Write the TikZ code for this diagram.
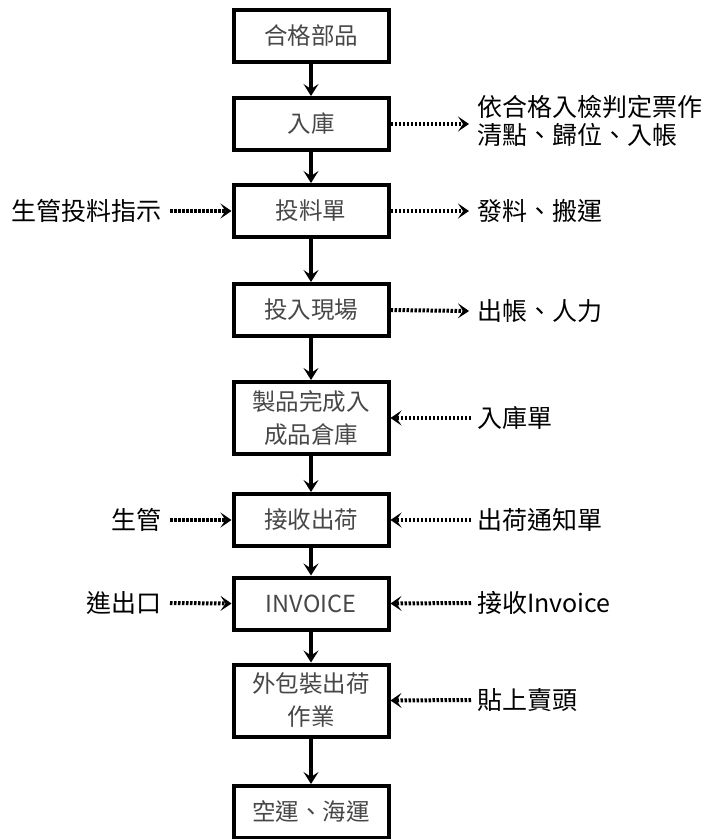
\documentclass[tikz,border=0pt]{standalone}
\usepackage{fontspec}
\setmainfont{Noto Sans CJK TC}
\usetikzlibrary{arrows.meta}
\begin{document}
\begin{tikzpicture}[x=1pt,y=-1pt,
  box/.style={draw=black, line width=4pt, minimum width=155pt, minimum height=52pt, inner sep=0pt,
     text=black!72, align=center, font=\fontsize{23.5}{33}\selectfont},
  tall/.style={minimum height=72pt},
  lbl/.style={text=black, align=left, inner sep=0pt, font=\fontsize{25}{28}\selectfont},
  flow/.style={line width=4pt, -{Stealth[length=12pt,width=15pt,inset=5pt]}},
  dot/.style={line width=4pt, dash pattern=on 2.5pt off 1.5pt, -{Stealth[length=11pt,width=15pt,inset=5pt]}}]
\useasboundingbox (0,0) rectangle (708,839);
\node[box] (b1) at (311,36) {合格部品};
\node[box] (b2) at (311,124) {入庫};
\node[box] (b3) at (311,211) {投料單};
\node[box] (b4) at (311,310) {投入現場};
\node[box,tall] (b5) at (311,418) {製品完成入\\成品倉庫};
\node[box] (b6) at (311,520) {接收出荷};
\node[box] (b7) at (311,603.5) {INVOICE};
\node[box,tall] (b8) at (311,700.5) {外包裝出荷\\作業};
\node[box] (b9) at (311,812) {空運、海運};
\foreach \a/\b in {b1/b2,b2/b3,b3/b4,b4/b5,b5/b6,b6/b7,b7/b8,b8/b9}
  \draw[flow] (\a) -- (\b);
% right labels
\node[lbl, anchor=west] (r2) at (477,121) {依合格入檢判定票作\\清點、歸位、入帳};
\node[lbl, anchor=west] (r3) at (477,211) {發料、搬運};
\node[lbl, anchor=west] (r4) at (477,311) {出帳、人力};
\node[lbl, anchor=west] (r5) at (477,418) {入庫單};
\node[lbl, anchor=west] (r6) at (477,520) {出荷通知單};
\node[lbl, anchor=west] (r7) at (477,603) {接收Invoice};
\node[lbl, anchor=west] (r8) at (477,700) {貼上賣頭};
% left labels
\node[lbl, anchor=east] (l3) at (162,211) {生管投料指示};
\node[lbl, anchor=east] (l6) at (162,520) {生管};
\node[lbl, anchor=east] (l7) at (162,603) {進出口};
% dotted connectors
\draw[dot] (b2.east) -- ([xshift=-8pt]r2.west |- b2.east);
\draw[dot] (b3.east) -- ([xshift=-8pt]r3.west);
\draw[dot] (b4.east) -- ([xshift=-8pt]r4.west);
\draw[dot] ([xshift=-6pt]r5.west) -- (b5.east);
\draw[dot] ([xshift=-6pt]r6.west) -- (b6.east);
\draw[dot] ([xshift=-6pt]r7.west) -- (b7.east);
\draw[dot] ([xshift=-6pt]r8.west) -- (b8.east);
\draw[dot] ([xshift=8pt]l3.east) -- (b3.west);
\draw[dot] ([xshift=8pt]l6.east) -- (b6.west);
\draw[dot] ([xshift=8pt]l7.east) -- (b7.west);
\end{tikzpicture}
\end{document}
